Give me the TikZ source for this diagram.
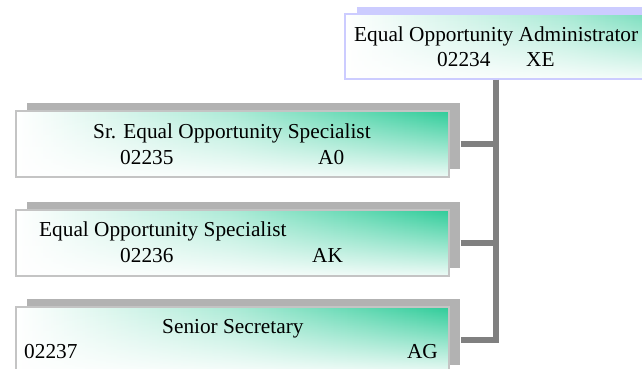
\documentclass[tikz,border=0pt]{standalone}
\usepackage{fontspec}
\setmainfont{Liberation Serif}
\usetikzlibrary{fadings,shadows}
\definecolor{boxgreen}{HTML}{2ECC99}
\definecolor{shadowgray}{HTML}{B2B2B2}
\definecolor{linegray}{HTML}{808080}
\definecolor{lav}{HTML}{CCCCFF}
\definecolor{bordergray}{HTML}{C4C4C4}
\tikzfading[name=fadeup, top color=transparent!100, bottom color=transparent!8]
\tikzset{
  gradbox/.style={rectangle, anchor=north west, inner sep=0pt,
    minimum width=433pt, minimum height=66pt,
    left color=white, right color=boxgreen, middle color=boxgreen!40,
    path picture={\fill[white, path fading=fadeup]
      (path picture bounding box.south west) rectangle (path picture bounding box.north east);}},
  posbox/.style={gradbox, draw=bordergray, line width=1.5pt,
    general shadow={shadow xshift=11pt, shadow yshift=8pt, fill=shadowgray}},
  headbox/.style={gradbox, minimum height=65pt, draw=lav, line width=1.5pt,
    general shadow={shadow xshift=12pt, shadow yshift=7pt, fill=lav}},
  txt/.style={inner sep=0pt, font=\fontsize{21.3}{25}\selectfont, text=black},
  conn/.style={draw=linegray, line width=5.5pt}
}
\begin{document}
\begin{tikzpicture}[x=1pt,y=-1pt]
\useasboundingbox (0,0) rectangle (642,368);
\clip (0,0) rectangle (642,368);
\node[headbox] (top) at (344,13) {};
\node[posbox] (b1) at (15,110) {};
\node[posbox] (b2) at (15,209) {};
\node[posbox] (b3) at (15,306) {};
\coordinate (vx) at (496,0);
\draw[conn] (top.south -| vx) |- ([xshift=11pt]b3.east);
\draw[conn] ([xshift=11pt]b1.east) -- (b1.east -| vx);
\draw[conn] ([xshift=11pt]b2.east) -- (b2.east -| vx);
\node[txt, anchor=base west] (t0a) at (354,41.7) {Equal Opportunity Administrator};
\node[txt, anchor=base west] (t0b) at (437,66.7) {02234};
\node[txt, anchor=base west] (t0c) at (526,66.7) {XE};
\node[txt, anchor=base west] (t1a) at (93,138) {Sr. Equal Opportunity Specialist};
\node[txt, anchor=base west] (t1b) at (120,164) {02235};
\node[txt, anchor=base west] (t1c) at (318,164) {A0};
\node[txt, anchor=base west] (t2a) at (39,236) {Equal Opportunity Specialist};
\node[txt, anchor=base west] (t2b) at (120,262) {02236};
\node[txt, anchor=base west] (t2c) at (312,262) {AK};
\node[txt, anchor=base west] (t3a) at (162,333) {Senior Secretary};
\node[txt, anchor=base west] (t3b) at (24,358) {02237};
\node[txt, anchor=base east] (t3c) at (438,358) {AG};
\end{tikzpicture}
\end{document}
